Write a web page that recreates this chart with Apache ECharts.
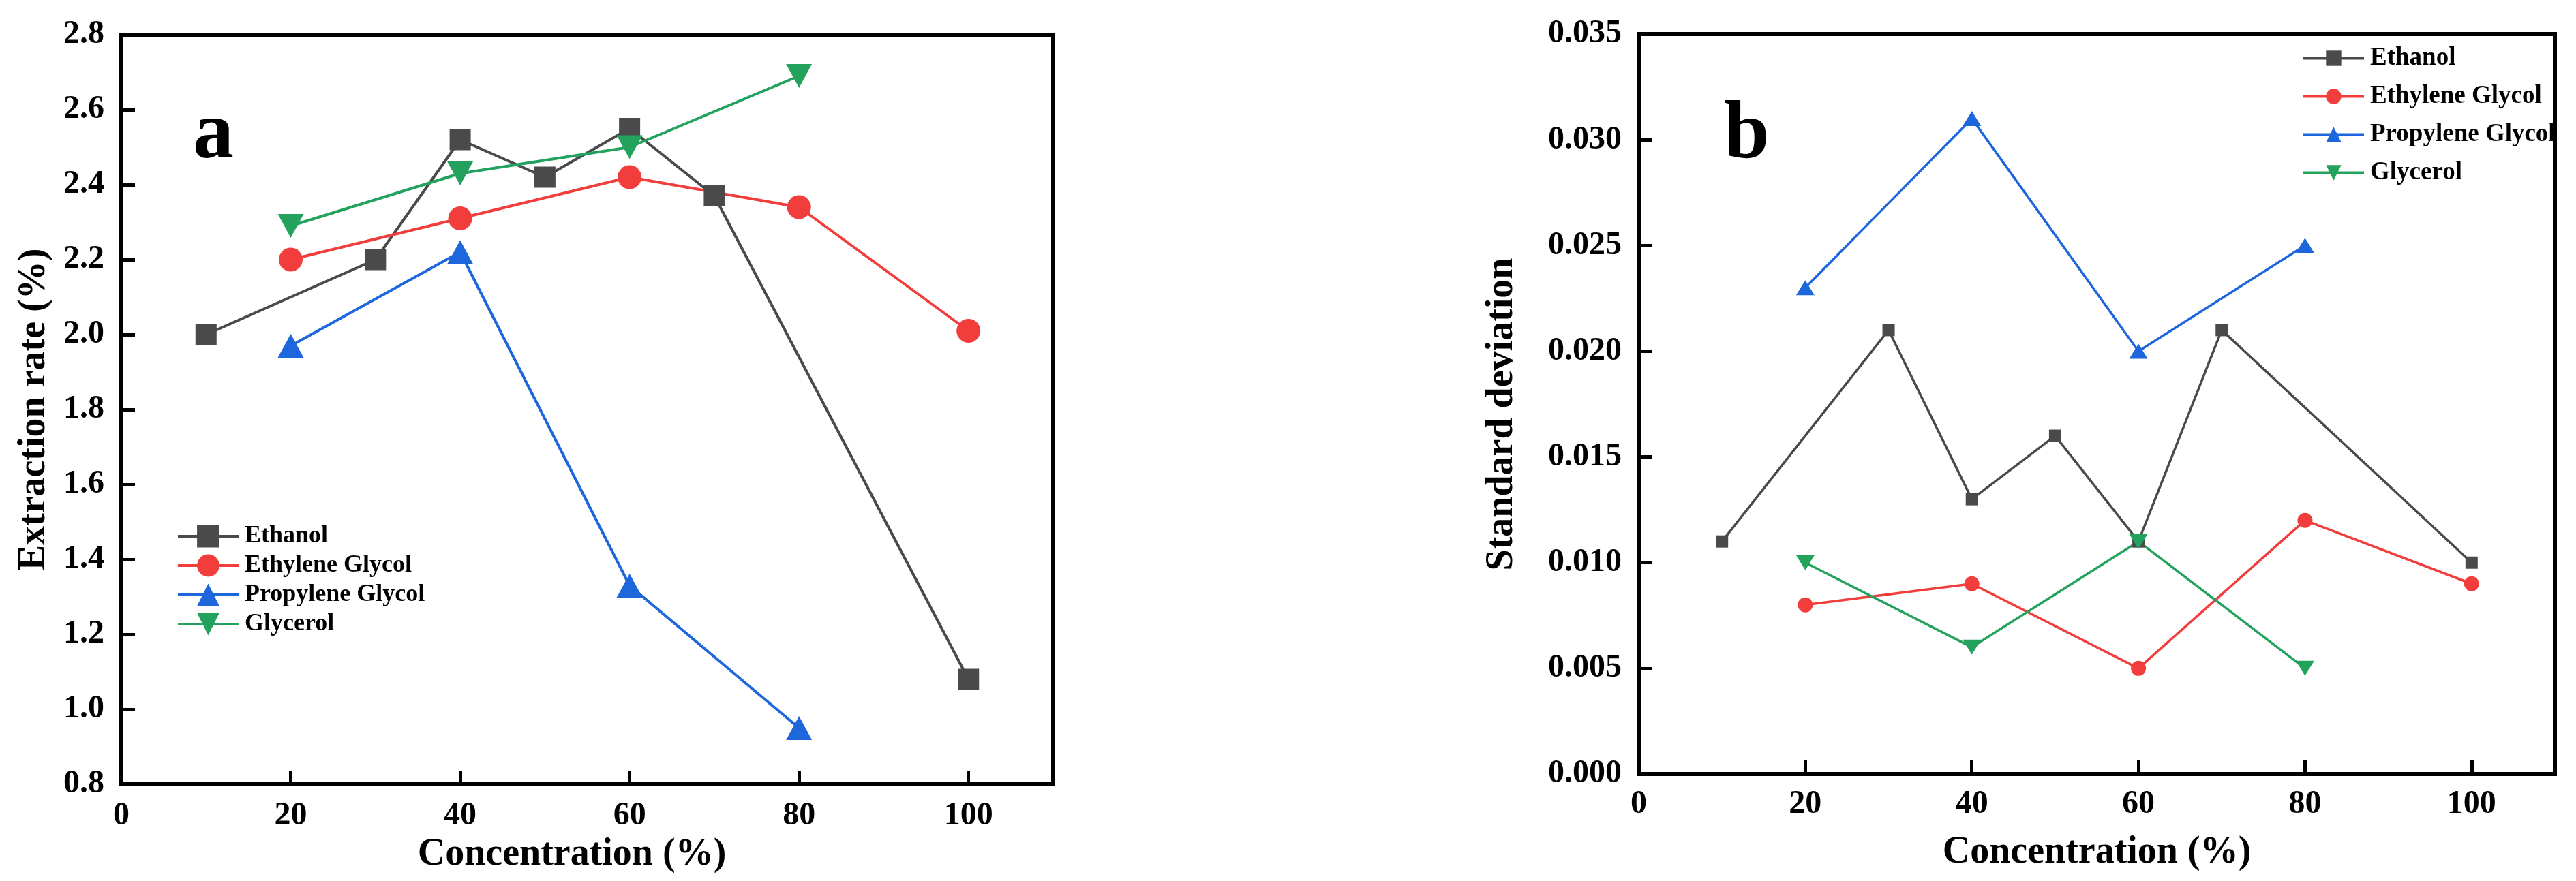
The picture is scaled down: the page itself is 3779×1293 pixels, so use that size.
<!DOCTYPE html>
<html>
<head>
<meta charset="utf-8">
<script src="https://cdn.jsdelivr.net/npm/echarts@6/dist/echarts.min.js"></script>
<style>
html,body{margin:0;padding:0;background:#fff;}
#chart{width:3779px;height:1293px;}
</style>
</head>
<body>
<div id="chart"></div>
<script>
// ---- Data ----
const seriesNames = ['Ethanol', 'Ethylene Glycol', 'Propylene Glycol', 'Glycerol'];

// concentration (%) per series
const ethanolX = [10, 30, 40, 50, 60, 70, 100];
const ethyleneX = [20, 40, 60, 80, 100];
const propyleneX = [20, 40, 60, 80];
const glycerolX = [20, 40, 60, 80];

// panel a: extraction rate (%)
const ethanolRate = [2.00, 2.20, 2.52, 2.42, 2.55, 2.37, 1.08];
const ethyleneRate = [2.20, 2.31, 2.42, 2.34, 2.01];
const propyleneRate = [1.97, 2.22, 1.33, 0.95];
const glycerolRate = [2.29, 2.43, 2.50, 2.69];

// panel b: standard deviation
const ethanolSD = [0.011, 0.021, 0.013, 0.016, 0.011, 0.021, 0.010];
const ethyleneSD = [0.008, 0.009, 0.005, 0.012, 0.009];
const propyleneSD = [0.023, 0.031, 0.020, 0.025];
const glycerolSD = [0.010, 0.006, 0.011, 0.005];

// axis ticks
const xTicks = [0, 20, 40, 60, 80, 100];
const yTicksA = [0.8, 1.0, 1.2, 1.4, 1.6, 1.8, 2.0, 2.2, 2.4, 2.6, 2.8];
const yTicksB = [0.000, 0.005, 0.010, 0.015, 0.020, 0.025, 0.030, 0.035];

// ---- Style ----
const FONT = '"Liberation Serif", "Times New Roman", serif';
const colors = ['#4a4a4a', '#f23d3d', '#1d66dc', '#23a25d'];
const symbols = ['rect', 'circle', 'triangle', 'path://M0,0L2,0L1,2Z'];
const symSizeA = [31, 35, [38, 35], [38, 35]];
const symSizeB = [18, 22, [27, 22], [27, 22]];

const xsList = [ethanolX, ethyleneX, propyleneX, glycerolX];
const ysA = [ethanolRate, ethyleneRate, propyleneRate, glycerolRate];
const ysB = [ethanolSD, ethyleneSD, propyleneSD, glycerolSD];

function pairs(xs, ys) { return xs.map((x, i) => [x, ys[i]]); }

const series = [];
seriesNames.forEach((name, i) => {
  series.push({
    name: name, type: 'line', xAxisIndex: 0, yAxisIndex: 0,
    data: pairs(xsList[i], ysA[i]),
    symbol: symbols[i], symbolSize: symSizeA[i],
    itemStyle: { color: colors[i] },
    lineStyle: { color: colors[i], width: 4 },
    showAllSymbol: true, animation: false
  });
});
seriesNames.forEach((name, i) => {
  series.push({
    name: name, type: 'line', xAxisIndex: 1, yAxisIndex: 1,
    data: pairs(xsList[i], ysB[i]),
    symbol: symbols[i], symbolSize: symSizeB[i],
    itemStyle: { color: colors[i] },
    lineStyle: { color: colors[i], width: 3.5 },
    showAllSymbol: true, animation: false
  });
});

const axisLine = { show: true, onZero: false, lineStyle: { color: '#000', width: 6 } };
const tickStyle = { show: true, inside: true, length: 20, lineStyle: { color: '#000', width: 5 } };
const labelBase = { color: '#000', fontFamily: FONT, fontWeight: 'bold', fontSize: 48 };
const nameBase = { color: '#000', fontFamily: FONT, fontWeight: 'bold', fontSize: 56 };

function xAxisFor(gridIndex, margin, nameGap, namePad) {
  return {
    type: 'value', gridIndex: gridIndex, min: xTicks[0], max: 110, interval: xTicks[1] - xTicks[0],
    name: 'Concentration (%)', nameLocation: 'middle', nameGap: nameGap,
    nameTextStyle: Object.assign({ padding: namePad }, nameBase),
    axisLine: axisLine, axisTick: tickStyle,
    axisLabel: Object.assign({ margin: margin, showMaxLabel: false, showMinLabel: true }, labelBase),
    splitLine: { show: false }
  };
}

const option = {
  backgroundColor: '#ffffff',
  animation: false,
  grid: [
    { left: 178, top: 51, width: 1367, height: 1100, show: true, borderColor: '#000', borderWidth: 6, backgroundColor: 'transparent' },
    { left: 2404, top: 50, width: 1344, height: 1086, show: true, borderColor: '#000', borderWidth: 6, backgroundColor: 'transparent' }
  ],
  xAxis: [
    xAxisFor(0, 23, 73, [0, 45, 0, 0]),
    xAxisFor(1, 21, 88, [0, 0, 0, 0])
  ],
  yAxis: [
    {
      type: 'value', gridIndex: 0, min: yTicksA[0], max: yTicksA[yTicksA.length - 1], interval: 0.2,
      name: 'Extraction rate (%)', nameLocation: 'middle', nameGap: 99,
      nameTextStyle: nameBase,
      axisLine: axisLine, axisTick: tickStyle,
      axisLabel: Object.assign({ margin: 25, formatter: v => v.toFixed(1) }, labelBase),
      splitLine: { show: false }
    },
    {
      type: 'value', gridIndex: 1, min: yTicksB[0], max: yTicksB[yTicksB.length - 1], interval: 0.005,
      name: 'Standard deviation', nameLocation: 'middle', nameGap: 172,
      nameTextStyle: Object.assign({ padding: [0, 30, 0, 0] }, nameBase),
      axisLine: axisLine, axisTick: tickStyle,
      axisLabel: Object.assign({ margin: 25, formatter: v => v.toFixed(3) }, labelBase),
      splitLine: { show: false }
    }
  ],
  legend: [
    {
      data: seriesNames, orient: 'vertical', left: 254, top: 764,
      itemWidth: 89, itemHeight: 41, itemGap: 7,
      lineStyle: { width: 4 },
      textStyle: { color: '#000', fontFamily: FONT, fontWeight: 'bold', fontSize: 36, padding: [0, 0, 0, 4] },
      selectedMode: false
    },
    {
      data: seriesNames, orient: 'vertical', left: 3372, top: 62,
      itemWidth: 89, itemHeight: 28, itemGap: 19,
      lineStyle: { width: 4 },
      textStyle: { color: '#000', fontFamily: FONT, fontWeight: 'bold', fontSize: 37, padding: [0, 0, 0, 4] },
      selectedMode: false
    }
  ],
  graphic: [
    { type: 'text', left: 283, top: 140, style: { text: 'a', font: 'bold 120px ' + FONT, fill: '#000' } },
    { type: 'text', left: 2529, top: 140, style: { text: 'b', font: 'bold 120px ' + FONT, fill: '#000' } }
  ],
  series: series
};

const chart = echarts.init(document.getElementById('chart'), null, { renderer: 'canvas' });
chart.setOption(option);
</script>
</body>
</html>
